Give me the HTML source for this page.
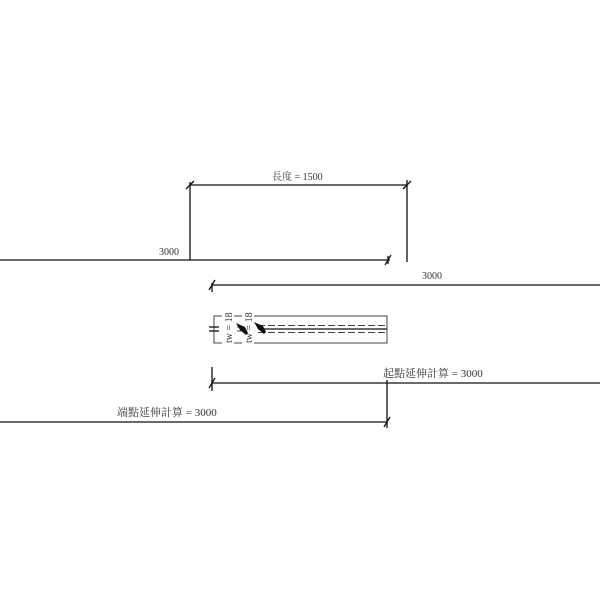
<!DOCTYPE html>
<html><head><meta charset="utf-8"><style>
html,body{margin:0;padding:0;background:#fff;}
svg{display:block;}
text{font-family:"Liberation Serif","Noto Serif CJK SC",serif;font-size:10px;fill:#333;}
</style></head><body>
<svg width="600" height="600" viewBox="0 0 600 600" xmlns="http://www.w3.org/2000/svg">
<g stroke="#111" stroke-width="1.3" fill="none">
<line x1="190" y1="185" x2="407" y2="185"/>
<line x1="190" y1="182" x2="190" y2="260"/>
<line x1="407" y1="180" x2="407" y2="262"/>
<line x1="186" y1="189" x2="194" y2="181"/>
<line x1="403" y1="189" x2="411" y2="181"/>
<line x1="0" y1="260" x2="390" y2="260"/>
<line x1="385" y1="265" x2="391" y2="255"/>
<line x1="388" y1="256" x2="388" y2="264"/>
<line x1="212" y1="285" x2="600" y2="285"/>
<line x1="209" y1="290" x2="215" y2="280"/>
<line x1="212" y1="283" x2="212" y2="292"/>
<line x1="212" y1="383" x2="600" y2="383"/>
<line x1="212" y1="367" x2="212" y2="391"/>
<line x1="209" y1="388" x2="215" y2="378"/>
<line x1="387" y1="380" x2="387" y2="428"/>
<line x1="0" y1="422" x2="387" y2="422"/>
<line x1="384" y1="427" x2="390" y2="417"/>
</g>
<g stroke="#444" stroke-width="1" fill="none">
<rect x="214" y="316" width="173" height="27"/>
<line x1="258" y1="329" x2="387" y2="329" stroke="#111" stroke-width="1.2"/>
<line x1="258" y1="325.5" x2="387" y2="325.5" stroke-dasharray="7,3"/>
<line x1="258" y1="332.5" x2="387" y2="332.5" stroke-dasharray="7,3"/>
<line x1="209" y1="327" x2="219" y2="327" stroke="#111" stroke-width="1.3"/>
<line x1="209" y1="331" x2="219" y2="331" stroke="#111" stroke-width="1.3"/>
<line x1="237" y1="327" x2="252" y2="327"/>
<line x1="237" y1="331" x2="252" y2="331"/>
</g>
<rect x="222" y="314" width="12" height="30" fill="#fff"/>
<rect x="242" y="314" width="12" height="30" fill="#fff"/>
<g fill="#111">
<polygon points="236,323 245,327 248,333 246,335 240,330"/>
<polygon points="254,322 263,326 266,332 264,334 258,329"/>
</g>
<text transform="translate(232,343) rotate(-90)">tw = 18</text>
<text transform="translate(252,343) rotate(-90)">tw = 18</text>
<text x="272" y="180">長度 = 1500</text>
<text x="159" y="255">3000</text>
<text x="422" y="279">3000</text>
<text x="383" y="377" style="font-size:11px">起點延伸計算 = 3000</text>
<text x="117" y="416" style="font-size:11px">端點延伸計算 = 3000</text>
</svg>
</body></html>
